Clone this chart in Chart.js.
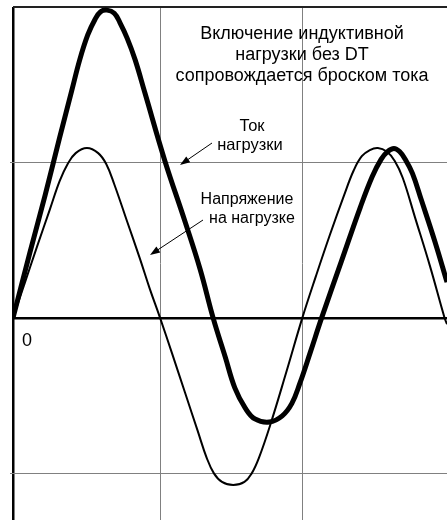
<!DOCTYPE html>
<html>
<head>
<meta charset="utf-8">
<script src="https://cdn.jsdelivr.net/npm/chart.js@4/dist/chart.umd.min.js"></script>
<style>
  body { margin: 0; background: #fff; }
</style>
</head>
<body>
<canvas id="wave" width="447" height="520"></canvas>
<script>
'use strict';

// phase in degrees of the supply voltage
const voltageX = [0, 15, 30, 46, 58, 68, 78, 92, 106, 116, 126, 142, 158, 170, 183, 198, 214, 230, 241, 250, 260, 274, 288, 297, 306, 320, 340, 360, 377, 394, 412, 424, 434, 444, 454, 465, 475, 485, 500, 519, 537, 540];
const voltageY = [0, 0.23, 0.46, 0.70, 0.88, 0.99, 1.06, 1.093, 1.06, 0.99, 0.86, 0.62, 0.38, 0.19, 0, -0.23, -0.48, -0.73, -0.90, -1.0, -1.055, -1.075, -1.055, -1.0, -0.90, -0.69, -0.35, 0, 0.27, 0.53, 0.79, 0.95, 1.04, 1.08, 1.093, 1.07, 1.01, 0.90, 0.65, 0.33, 0, -0.04];

const currentX = [0, 21, 40, 58, 73, 83, 93, 102, 109, 117, 126, 133, 142, 152, 164, 189, 214, 233, 249, 264, 276, 289, 301, 319, 335, 347, 357, 370, 384, 409, 432, 447, 458, 466, 474, 481, 488, 497, 508, 525, 540];
const currentY = [0, 0.42, 0.79, 1.16, 1.46, 1.66, 1.82, 1.92, 1.97, 1.98, 1.96, 1.90, 1.80, 1.66, 1.45, 1.01, 0.62, 0.31, 0, -0.25, -0.45, -0.58, -0.65, -0.67, -0.63, -0.55, -0.42, -0.22, 0, 0.37, 0.71, 0.91, 1.02, 1.07, 1.09, 1.07, 1.02, 0.93, 0.76, 0.49, 0.23];

const xGrid = [0, 184, 360];
const yGrid = [-1, 0, 1, 2];

const titleLines = ['Включение индуктивной', 'нагрузки без DT', 'сопровождается броском тока'];
const currentLabel = ['Ток', 'нагрузки'];
const voltageLabel = ['Напряжение', 'на нагрузке'];
const zeroLabel = '0';

function pairs(xs, ys) {
  return xs.map(function (x, i) { return { x: x, y: ys[i] }; });
}

function arrow(ctx, x1, y1, x2, y2) {
  const a = Math.atan2(y2 - y1, x2 - x1);
  ctx.beginPath();
  ctx.moveTo(x1, y1);
  ctx.lineTo(x2 - 6 * Math.cos(a), y2 - 6 * Math.sin(a));
  ctx.stroke();
  ctx.beginPath();
  ctx.moveTo(x2, y2);
  ctx.lineTo(x2 - 10 * Math.cos(a) + 3.5 * Math.sin(a), y2 - 10 * Math.sin(a) - 3.5 * Math.cos(a));
  ctx.lineTo(x2 - 10 * Math.cos(a) - 3.5 * Math.sin(a), y2 - 10 * Math.sin(a) + 3.5 * Math.cos(a));
  ctx.closePath();
  ctx.fill();
}

// notes and arrows over the curves
const notes = {
  id: 'notes',
  afterDatasetsDraw(chart) {
    const ctx = chart.ctx;
    const font = '"Liberation Sans", Arial, sans-serif';
    ctx.save();
    ctx.fillStyle = '#000';
    ctx.strokeStyle = '#000';
    ctx.lineWidth = 1;
    ctx.textAlign = 'center';
    ctx.textBaseline = 'alphabetic';

    ctx.font = '18px ' + font;
    titleLines.forEach(function (t, i) { ctx.fillText(t, 302, 39 + i * 20.8); });

    ctx.font = '16.5px ' + font;
    ctx.fillText(currentLabel[0], 252, 131);
    ctx.fillText(currentLabel[1], 250, 150);
    ctx.font = '16px ' + font;
    ctx.fillText(voltageLabel[0], 247, 204);
    ctx.fillText(voltageLabel[1], 252, 223);

    arrow(ctx, 212, 143, 180, 165);
    arrow(ctx, 203, 220, 150, 255);

    ctx.font = '18px ' + font;
    ctx.fillText(zeroLabel, 27, 346);
    ctx.restore();
  }
};

new Chart(document.getElementById('wave').getContext('2d'), {
  type: 'line',
  data: {
    datasets: [{
      label: 'Ток нагрузки',
      data: pairs(currentX, currentY),
      borderColor: '#000',
      borderWidth: 5,
      pointRadius: 0,
      tension: 0.4,
    }, {
      label: 'Напряжение на нагрузке',
      data: pairs(voltageX, voltageY),
      borderColor: '#000',
      borderWidth: 2,
      pointRadius: 0,
      tension: 0.4,
    }]
  },
  options: {
    responsive: false,
    animation: false,
    events: [],
    layout: { padding: { left: 10, top: 7, right: 0, bottom: 0 } },
    plugins: {
      legend: { display: false },
      tooltip: { enabled: false },
    },
    scales: {
      x: {
        type: 'linear',
        min: 0,
        max: 540,
        afterBuildTicks: function (scale) {
          scale.ticks = xGrid.map(function (v) { return { value: v }; });
        },
        ticks: { display: false },
        border: { display: false },
        grid: {
          drawTicks: false,
          color: function (c) { return c.tick && c.tick.value === 0 ? '#000' : '#808080'; },
          lineWidth: function (c) { return c.tick && c.tick.value === 0 ? 2.5 : 1; },
        }
      },
      y: {
        min: -1.3,
        max: 2,
        afterBuildTicks: function (scale) {
          scale.ticks = yGrid.map(function (v) { return { value: v }; });
        },
        ticks: { display: false },
        border: { display: false },
        grid: {
          drawTicks: true,
          tickLength: 3,
          color: function (c) {
            if (!c.tick) return '#808080';
            if (c.tick.value === 0) return '#000';
            if (c.tick.value === 2) return '#222';
            return '#808080';
          },
          tickColor: function (c) {
            return c.tick && (c.tick.value === 0 || c.tick.value === 2) ? 'rgba(0,0,0,0)' : '#808080';
          },
          lineWidth: function (c) {
            if (!c.tick) return 1;
            if (c.tick.value === 0) return 2.5;
            if (c.tick.value === 2) return 2;
            return 1;
          },
        }
      }
    }
  },
  plugins: [notes]
});
</script>
</body>
</html>
